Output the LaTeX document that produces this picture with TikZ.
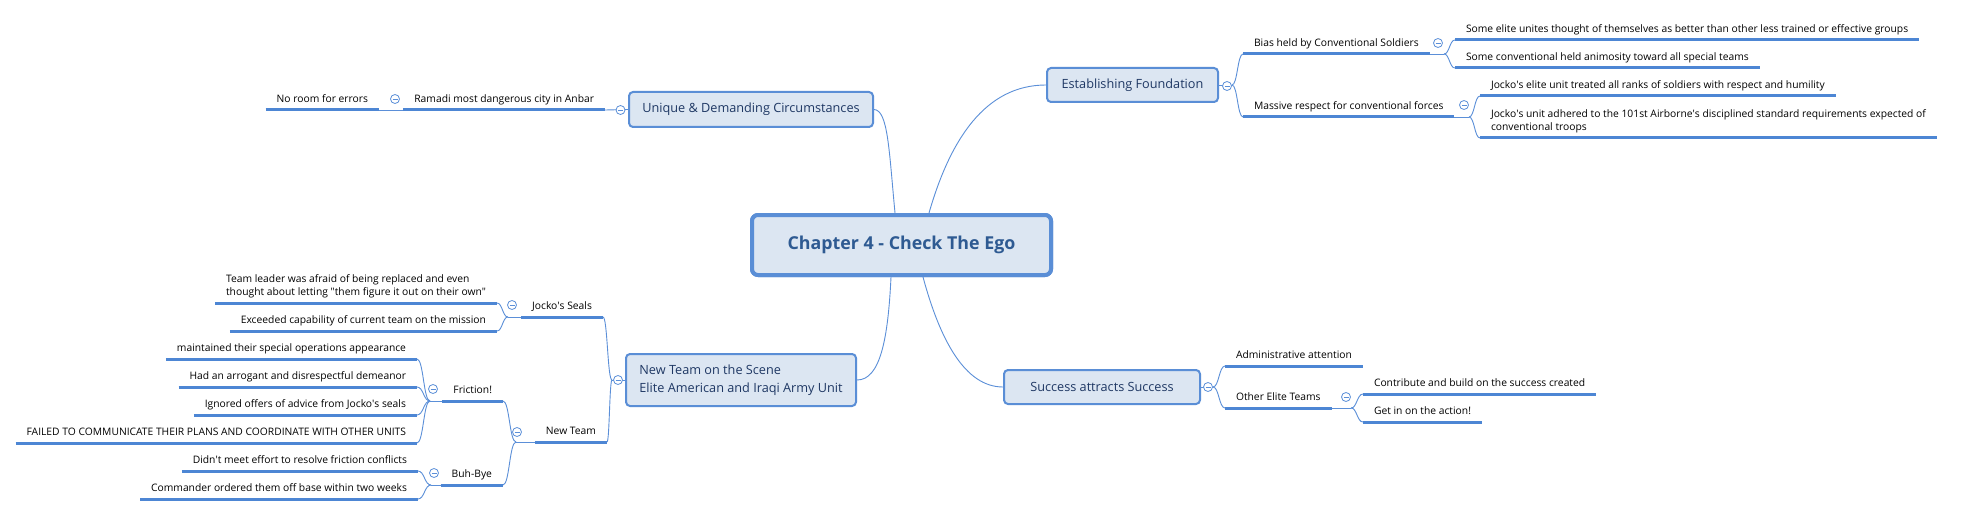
\documentclass[tikz,border=0pt]{standalone}
\usepackage{fontspec}
\setmainfont{Open Sans}
\usetikzlibrary{calc}
\definecolor{boxfill}{HTML}{DCE6F2}
\definecolor{boxline}{HTML}{5A8ED6}
\definecolor{ulcol}{HTML}{4D86D4}
\definecolor{conncol}{HTML}{5B8FD8}
\definecolor{toptext}{HTML}{1F3864}
\definecolor{centext}{HTML}{2E5A92}
\newcommand\subfont{\fontsize{10.3}{13}\selectfont}
\newcommand\topfont{\fontsize{12.7}{17.5}\selectfont}
\newcommand\cenfont{\fontsize{17.8}{20}\selectfont\bfseries}
\newcommand\ap{\textquotesingle}
\newcommand\dq{\textquotedbl}
\newcommand\brc[2]{\draw[conn] let \p1=(#1), \p2=(#2) in (\p1) .. controls ({(\x1+\x2)/2},\y1) and ({(\x1+\x2)/2},\y2) .. (\p2);}
\begin{document}
\begin{tikzpicture}[x=1pt,y=-1pt,
  central/.style={rounded corners=6, draw=boxline, line width=4, fill=boxfill, minimum width=299, minimum height=60, text=centext, font=\cenfont, inner sep=0},
  topic/.style={rounded corners=4, draw=boxline, line width=2, fill=boxfill, text=toptext, font=\topfont, inner sep=0},
  sub/.style={inner xsep=11, inner ysep=5, text height=7.5, text depth=2.5, outer sep=0, font=\subfont, text=black},
  uline/.style={draw=ulcol, line width=3},
  conn/.style={draw=conncol, line width=0.9},
  tog/.style={circle, draw=conncol, line width=0.8, fill=white, minimum size=9, inner sep=0,
    path picture={\draw[conncol, line width=0.8] ([xshift=-2.5pt]path picture bounding box.center) -- ([xshift=2.5pt]path picture bounding box.center);}}
]
\useasboundingbox (0,0) rectangle (1965,516);
\fill[white] (0,0) rectangle (1965,516);

% main nodes
\node[central] (c) at (901.5,245) {Chapter 4 - Check The Ego};
\node[topic, minimum width=244, minimum height=35] (unique) at (751,109.5) {Unique \& Demanding Circumstances};
\node[topic, minimum width=171, minimum height=34] (estab) at (1132.5,85) {Establishing Foundation};
\node[topic, minimum width=196, minimum height=34] (success) at (1102,387) {Success attracts Success};
\node[topic, minimum width=230, minimum height=52, align=left] (scene) at (741,380) {New Team on the Scene\\Elite American and Iraqi Army Unit};

% subtopics, left side
\node[sub, anchor=south east] (ramadi) at (605,110) {Ramadi most dangerous city in Anbar};
\node[sub, anchor=south east] (noroom) at (379,110) {No room for errors};
\node[sub, anchor=south east] (jocko) at (603,317) {Jocko\ap s Seals};
\node[sub, anchor=south east] (newteam) at (607,442) {New Team};
\node[sub, anchor=south east, align=left] (leader) at (497,303) {Team leader was afraid of being replaced and even\\thought about letting \dq them figure it out on their own\dq};
\node[sub, anchor=south east] (exceed) at (497,331) {Exceeded capability of current team on the mission};
\node[sub, anchor=south east] (friction) at (503,401) {Friction!};
\node[sub, anchor=south east] (buhbye) at (503,485) {Buh-Bye};
\node[sub, anchor=south east] (maint) at (417,359) {maintained their special operations appearance};
\node[sub, anchor=south east] (had) at (417,387) {Had an arrogant and disrespectful demeanor};
\node[sub, anchor=south east] (ign) at (417,415) {Ignored offers of advice from Jocko\ap s seals};
\node[sub, anchor=south east] (failed) at (417,443) {FAILED TO COMMUNICATE THEIR PLANS AND COORDINATE WITH OTHER UNITS};
\node[sub, anchor=south east] (didnt) at (418,471) {Didn\ap t meet effort to resolve friction conflicts};
\node[sub, anchor=south east] (cmd) at (418,499) {Commander ordered them off base within two weeks};

% subtopics, right side
\node[sub, anchor=south west] (bias) at (1243,54) {Bias held by Conventional Soldiers};
\node[sub, anchor=south west] (massive) at (1243,117) {Massive respect for conventional forces};
\node[sub, anchor=south west] (elite1) at (1455,40) {Some elite unites thought of themselves as better than other less trained or effective groups};
\node[sub, anchor=south west] (conv1) at (1455,68) {Some conventional held animosity toward all special teams};
\node[sub, anchor=south west] (jelite) at (1480,96) {Jocko\ap s elite unit treated all ranks of soldiers with respect and humility};
\node[sub, anchor=south west, align=left] (jadhere) at (1480,138) {Jocko\ap s unit adhered to the 101st Airborne\ap s disciplined standard requirements expected of\\conventional troops};
\node[sub, anchor=south west] (admin) at (1225,366) {Administrative attention};
\node[sub, anchor=south west] (other) at (1225,408) {Other Elite Teams};
\node[sub, anchor=south west] (contrib) at (1363,394) {Contribute and build on the success created};
\node[sub, anchor=south west] (getin) at (1363,422) {Get in on the action!};

% junctions
\coordinate (jE) at (1232,85);
\coordinate (jB) at (1444,54);
\coordinate (jM) at (1469,117);
\coordinate (jS) at (1213,387);
\coordinate (jO) at (1351,408);
\coordinate (jN) at (612,380);
\coordinate (jJ) at (508,317);
\coordinate (jNT) at (516,442);
\coordinate (jF) at (430,401);
\coordinate (jBB) at (431,485);

% central connectors
\draw[conn] ([xshift=-6.5pt]c.north) .. controls (889,150) and (888,110) .. (unique.east);
\draw[conn] ([xshift=27.5pt]c.north) .. controls (950,140) and (985,85) .. (estab.west);
\draw[conn] ([xshift=-10.5pt]c.south) .. controls (888,340) and (880,380) .. (scene.east);
\draw[conn] ([xshift=21.5pt]c.south) .. controls (940,340) and (965,387) .. (success.west);

% branch connectors
\draw[conn] (ramadi.south east) -- (unique.west);
\draw[conn] (noroom.south east) -- (ramadi.south west);
\draw[conn] (estab.east) -- (jE);
\brc{jE}{bias.south west}
\brc{jE}{massive.south west}
\draw[conn] (bias.south east) -- (jB);
\brc{jB}{elite1.south west}
\brc{jB}{conv1.south west}
\draw[conn] (massive.south east) -- (jM);
\brc{jM}{jelite.south west}
\brc{jM}{jadhere.south west}
\draw[conn] (success.east) -- (jS);
\brc{jS}{admin.south west}
\brc{jS}{other.south west}
\draw[conn] (other.south east) -- (jO);
\brc{jO}{contrib.south west}
\brc{jO}{getin.south west}
\draw[conn] (scene.west) -- (jN);
\brc{jN}{jocko.south east}
\brc{jN}{newteam.south east}
\draw[conn] (jocko.south west) -- (jJ);
\brc{jJ}{leader.south east}
\brc{jJ}{exceed.south east}
\draw[conn] (newteam.south west) -- (jNT);
\brc{jNT}{friction.south east}
\brc{jNT}{buhbye.south east}
\draw[conn] (friction.south west) -- (jF);
\brc{jF}{maint.south east}
\brc{jF}{had.south east}
\brc{jF}{ign.south east}
\brc{jF}{failed.south east}
\draw[conn] (buhbye.south west) -- (jBB);
\brc{jBB}{didnt.south east}
\brc{jBB}{cmd.south east}

% underlines
\foreach \n in {ramadi,noroom,jocko,newteam,leader,exceed,friction,buhbye,maint,had,ign,failed,didnt,cmd,bias,massive,elite1,conv1,jelite,jadhere,admin,other,contrib,getin}
  \draw[uline] (\n.south west) -- (\n.south east);

% central box on top of its connectors
\node[central] at (c.center) {Chapter 4 - Check The Ego};

% toggles
\node[tog] (tU) at (620.5,110) {};
\node[tog] (tR) at (395,99) {};
\node[tog] (tE) at (1227,86) {};
\node[tog] (tB) at (1438,43) {};
\node[tog] (tM) at (1464,105) {};
\node[tog] (tS) at (1208,387) {};
\node[tog] (tO) at (1346,397) {};
\node[tog] (tN) at (618,380) {};
\node[tog] (tJ) at (512,305) {};
\node[tog] (tNT) at (517,432) {};
\node[tog] (tF) at (433,389) {};
\node[tog] (tBB) at (434,473) {};
\end{tikzpicture}
\end{document}
